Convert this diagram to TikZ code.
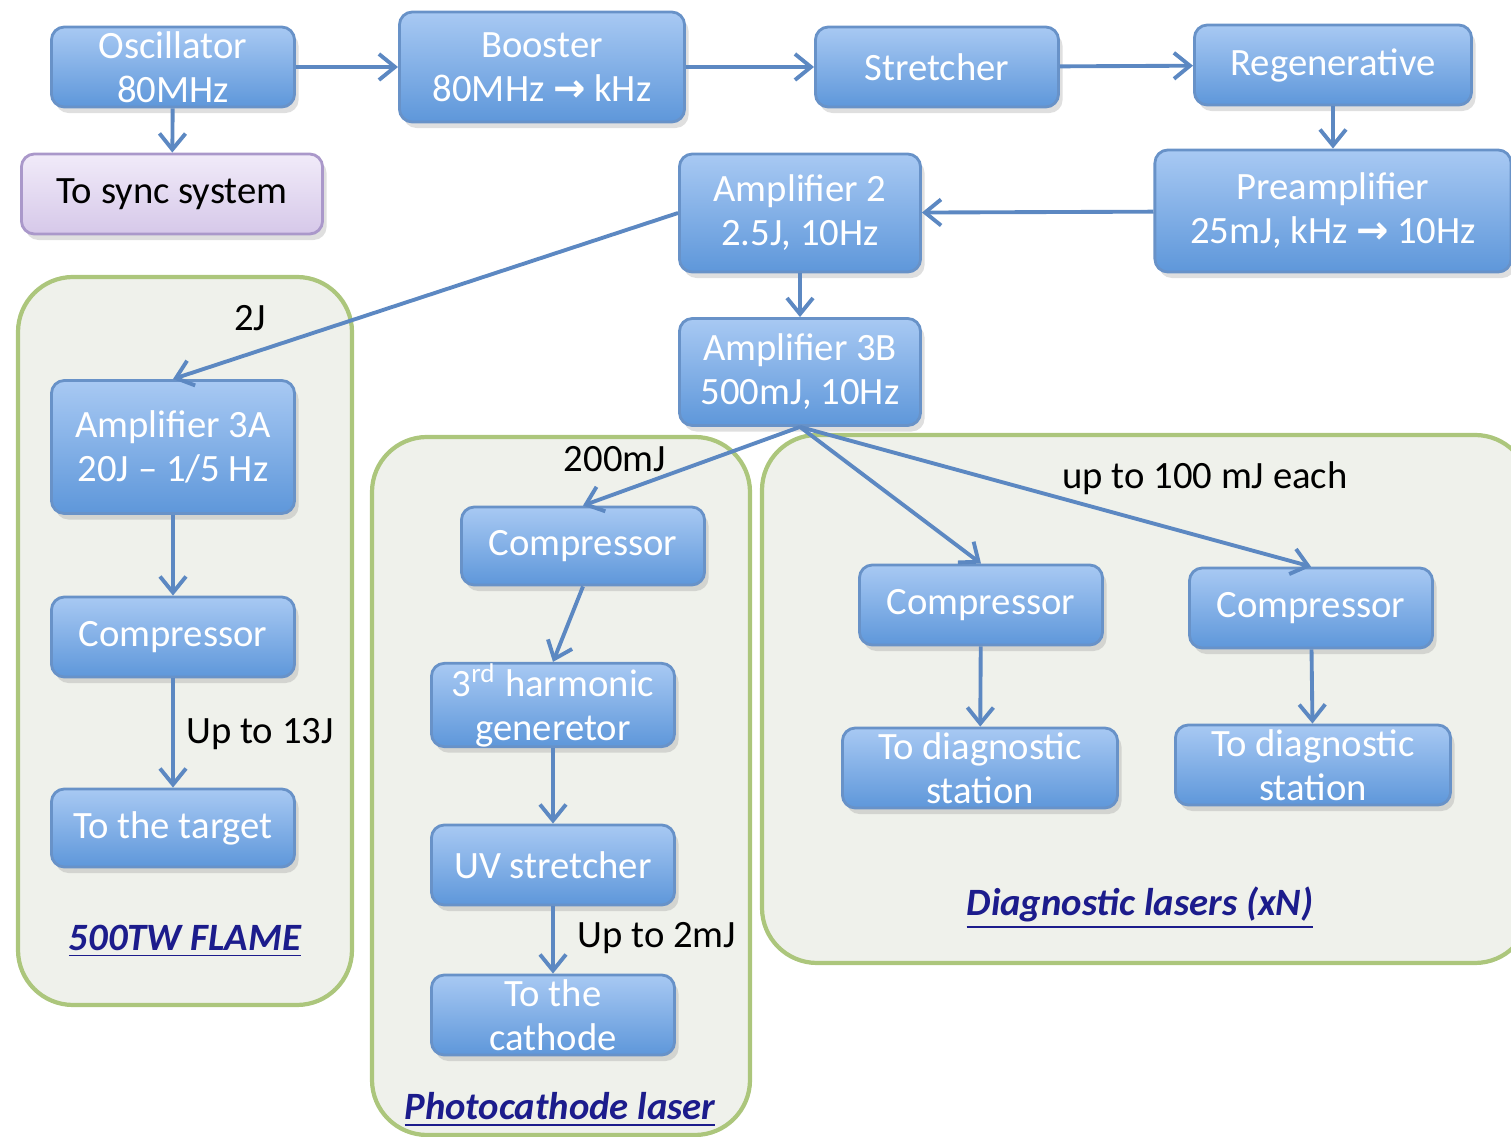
\documentclass[tikz,border=0pt]{standalone}
\usepackage{fontspec}
\setmainfont{Carlito}
\newfontfamily\arrowfont{DejaVu Sans}
\usetikzlibrary{arrows.meta, shadows}
\definecolor{boxtop}{RGB}{168,201,243}
\definecolor{boxbot}{RGB}{94,151,218}
\definecolor{boxline}{RGB}{104,146,200}
\definecolor{flow}{RGB}{92,136,194}
\definecolor{grpfill}{RGB}{239,241,235}
\definecolor{grpline}{RGB}{172,198,124}
\definecolor{synctop}{RGB}{241,235,249}
\definecolor{syncbot}{RGB}{214,200,233}
\definecolor{syncline}{RGB}{170,152,202}
\definecolor{titleblue}{RGB}{28,28,140}
\newcommand{\goesto}{{\arrowfont\bfseries →}}
\tikzset{
  >={Straight Barb[length=1.6mm,width=2.6mm]},
  every node/.style={font=\fontsize{11}{12.5}\selectfont},
  unit/.style={draw=boxline, line width=0.8pt, rounded corners=1.3mm,
    top color=boxtop, bottom color=boxbot, text=white, align=center,
    minimum width=2.43cm, minimum height=0.8cm, inner xsep=2pt, inner ysep=0pt,
    drop shadow={opacity=0.25, shadow xshift=0.4mm, shadow yshift=-0.6mm}},
  sync/.style={unit, top color=synctop, bottom color=syncbot, draw=syncline, text=black},
  group/.style={draw=grpline, line width=1.2pt, fill=grpfill, rounded corners=0.55cm},
  beam/.style={->, draw=flow, line width=1.1pt},
  energy/.style={text=black},
  grouptitle/.style={text=titleblue, font=\fontsize{11}{13}\selectfont\bfseries\itshape},
}

\begin{document}
\begin{tikzpicture}[x=0.01cm, y=-0.01cm]
  \useasboundingbox (0,0) rectangle (1511,1137);

  % laser groups
  \draw[group] (18,277) rectangle (352,1005);
  \draw[group] (372,437) rectangle (750,1135);
  \draw[group] (762,435) rectangle (1530,963);

  % front end
  \node[unit] (osc) at (173,67) {Oscillator\\80MHz};
  \node[unit, minimum width=2.85cm, minimum height=1.1cm] (booster) at (542,67) {Booster\\80MHz \goesto{} kHz};
  \node[unit] (stretcher) at (937,67) {Stretcher};
  \node[unit, minimum width=2.77cm] (regen) at (1333,65) {Regenerative};
  \node[sync, minimum width=3.01cm] (sync) at (172,194) {To sync system};
  \node[unit, minimum width=2.41cm, minimum height=1.18cm] (amp2) at (800,213) {Amplifier 2\\2.5J, 10Hz};
  \node[unit, minimum width=3.56cm, minimum height=1.22cm] (preamp) at (1333,211) {Preamplifier\\25mJ, kHz \goesto{} 10Hz};
  \node[unit, minimum width=2.41cm, minimum height=1.07cm] (amp3b) at (800,372) {Amplifier 3B\\500mJ, 10Hz};

  % 500TW FLAME
  \node[unit, minimum height=1.33cm] (amp3a) at (173,447) {Amplifier 3A\\20J -- 1/5 Hz};
  \node[unit] (compa) at (173,637) {Compressor};
  \node[unit, minimum height=0.78cm] (target) at (173,828) {To the target};

  % photocathode
  \node[unit, minimum height=0.78cm] (compp) at (583,546) {Compressor};
  \node[unit] (harm) at (553,705) {3\textsuperscript{rd} harmonic\\generetor};
  \node[unit] (uvs) at (553,865) {UV stretcher};
  \node[unit] (cathode) at (553,1015) {To the\\cathode};

  % diagnostics
  \node[unit] (compd1) at (981,605) {Compressor};
  \node[unit] (compd2) at (1311,608) {Compressor};
  \node[unit, minimum width=2.75cm] (diag1) at (980,768) {To diagnostic\\station};
  \node[unit, minimum width=2.75cm] (diag2) at (1313,765) {To diagnostic\\station};

  \node[energy] (e2j) at (250,318) {2J};
  \node[energy] (e13j) at (260,734) {Up to 13J};
  \node[energy] (e200) at (615,459) {200mJ};
  \node[energy] (e2mj) at (657,938) {Up to 2mJ};
  \node[energy] (e100) at (1205,478) {up to 100 mJ each};

  \node[grouptitle] (tflame) at (185,941) {\underline{500TW FLAME}};
  \node[grouptitle] (tphoto) at (560,1110) {\underline{Photocathode laser}};
  \node[grouptitle] (tdiag) at (1140,908) {\underline{Diagnostic lasers (xN)}};

  \draw[beam] (osc) -- (booster);
  \draw[beam] (booster) -- (stretcher);
  \draw[beam] (stretcher) -- (regen);
  \draw[beam] (regen) -- (preamp);
  \draw[beam] (preamp) -- (amp2);
  \draw[beam] (amp2) -- (amp3b);
  \draw[beam] (osc) -- (sync);
  \draw[beam] (amp2.west) -- (amp3a.north);
  \draw[beam] (amp3b.south) -- (compp.north);
  \draw[beam] (amp3b.south) -- (compd1.north);
  \draw[beam] (amp3b.south) -- (compd2.north);
  \draw[beam] (amp3a) -- (compa);
  \draw[beam] (compa) -- (target);
  \draw[beam] (compp.south) -- (harm.north);
  \draw[beam] (harm) -- (uvs);
  \draw[beam] (uvs) -- (cathode);
  \draw[beam] (compd1) -- (diag1);
  \draw[beam] (compd2) -- (diag2);
\end{tikzpicture}
\end{document}
